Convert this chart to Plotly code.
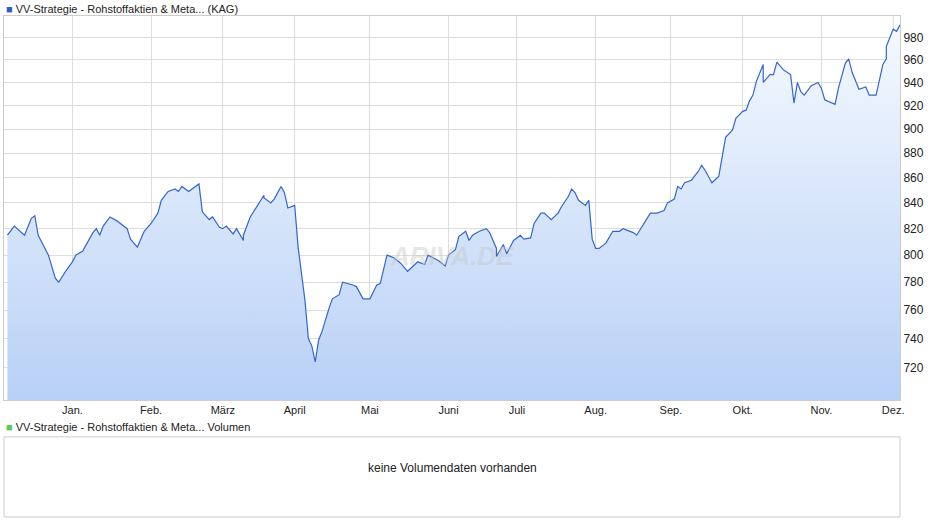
import plotly.graph_objects as go
import pandas as pd
import numpy as np

# reading positions (in 2.52-px steps from Jan 1 on the chart) and values
read_pos = [-26,-23,-19,-16,-15,-13,-10,-7,-5,-3,0,2,4,8,10,11,12,15,18,21,23,25,28,31,34,35,38,41,42,44,46,49,50,52,54,56,58,60,62,65,66,68,69,72,74,77,78,80,82,84,86,88,90,92,94,96,97,98,99,101,103,105,107,109,112,114,116,119,121,123,125,127,129,132,135,137,139,142,144,146,148,150,152,154,156,158,161,162,165,166,168,170,172,175,177,179,181,183,185,188,190,192,194,196,197,199,201,202,204,205,207,209,212,214,216,219,221,223,226,228,231,233,235,236,238,239,242,245,247,249,252,254,256,258,260,262,265,266,268,269,271,273,274,276,278,280,282,285,286,288,290,291,293,296,298,300,303,305,307,309,310,312,313,315,317,319,321,322,323,324,326,327,329]
values = [815,822,815,828,830,815,800,783,780,788,795,800,803,817,820,815,822,829,826,820,812,806,818,824,832,842,849,851,849,853,849,853,855,833,827,829,821,820,822,816,820,811,815,829,837,846,844,840,843,853,848,836,838,806,767,740,735,724,739,745,761,768,771,780,778,777,768,768,778,779,800,798,794,788,795,793,800,796,792,800,804,814,818,811,815,818,820,817,805,799,808,801,811,815,812,813,824,832,832,827,832,837,845,851,848,842,838,842,812,805,805,809,818,818,820,817,815,824,832,832,834,840,843,853,851,856,858,865,870,866,856,861,876,893,899,909,915,916,924,929,941,956,940,947,947,958,951,947,922,940,932,929,937,940,935,925,921,935,957,961,949,942,934,936,929,929,942,956,961,972,988,986,992]
month_ticks = ["2024-01-01","2024-02-01","2024-03-01","2024-04-01","2024-05-01","2024-06-03","2024-07-01","2024-08-01","2024-09-02","2024-10-01","2024-11-01","2024-12-02"]
month_labels = ["Jan.","Feb.","März","April","Mai","Juni","Juli","Aug.","Sep.","Okt.","Nov.","Dez."]
y_ticks = [720,740,760,780,800,820,840,860,880,900,920,940,960,980]

tick_pos = np.array([0,31,60,90.5,119,145.6,173.8,205.2,233.7,265.1,298,326.2])
bdays = pd.bdate_range("2023-11-01", "2024-12-31")
tick_idx = np.array([bdays.searchsorted(pd.Timestamp(t)) for t in month_ticks], dtype=float)
per = (tick_idx[1]-tick_idx[0]) / (tick_pos[1]-tick_pos[0])
idx = np.interp(read_pos, tick_pos, tick_idx, left=np.nan, right=np.nan)
rp = np.array(read_pos, dtype=float)
idx = np.where(rp < 0, tick_idx[0] + rp*per, idx)
per_end = (tick_idx[-1]-tick_idx[-2]) / (tick_pos[-1]-tick_pos[-2])
idx = np.where(rp > tick_pos[-1], tick_idx[-1] + (rp-tick_pos[-1])*per_end, idx)
dates = bdays[np.round(idx).astype(int)]

fig = go.Figure()
fig.add_trace(go.Scatter(x=[dates[0], dates[-1]], y=[690, 690], mode="lines",
                         line=dict(width=0), hoverinfo="skip", showlegend=False))
fig.add_trace(go.Scatter(x=dates, y=values, mode="lines", fill="tonexty",
                         line=dict(color="#3366cc", width=1.2),
                         fillgradient=dict(type="vertical",
                                           colorscale=[[0, "#b6cff6"], [1, "#f5f9fe"]]),
                         showlegend=False))

fig.update_layout(
    width=940, height=526, margin=dict(l=4, r=40, t=16, b=9, autoexpand=False),
    paper_bgcolor="white", plot_bgcolor="white",
    font=dict(family="Liberation Sans, Arial", size=12, color="#222"),
    xaxis=dict(range=["2023-12-04", "2024-12-04"], tickvals=month_ticks, ticktext=month_labels,
               rangebreaks=[dict(bounds=["sat", "mon"])],
               showgrid=True, gridcolor="#dddddd", linecolor="#cccccc", showline=True, mirror=True,
               ticks="", anchor="y", tickfont=dict(size=11)),
    yaxis=dict(type="log", range=[2.8443, 3.0001], tickvals=y_ticks, side="right",
               showgrid=True, gridcolor="#dddddd", linecolor="#cccccc", showline=True, mirror=True,
               ticks="", domain=[0.2335, 1], tickfont=dict(size=12)),
)
fig.add_shape(type="rect", xref="paper", yref="paper", x0=0, x1=1, y0=0, y1=0.16,
              line=dict(color="#cccccc", width=1))
fig.add_annotation(xref="paper", yref="paper", x=0.5, y=0.08, text="keine Volumendaten vorhanden",
                   showarrow=False, font=dict(size=12, color="#222"))
fig.add_annotation(xref="paper", yref="paper", x=0.0, y=1.0, yshift=-1, xanchor="left", yanchor="bottom",
                   text="<span style='color:#2a5fc8'>■</span> VV-Strategie - Rohstoffaktien & Meta... (KAG)",
                   showarrow=False, font=dict(size=11, color="#222"))
fig.add_annotation(xref="paper", yref="paper", x=0.0, y=0.16, yshift=2, xanchor="left", yanchor="bottom",
                   text="<span style='color:#55cc55'>■</span> VV-Strategie - Rohstoffaktien & Meta... Volumen",
                   showarrow=False, font=dict(size=11, color="#222"))
fig.add_annotation(xref="paper", yref="paper", x=0.5, y=0.52, text="<b><i>ARIVA.DE</i></b>",
                   showarrow=False, font=dict(size=26, color="rgba(200,200,200,0.45)"))

fig.write_html("out.html", config={"displayModeBar": False},
               post_script="document.body.style.margin='0';")
